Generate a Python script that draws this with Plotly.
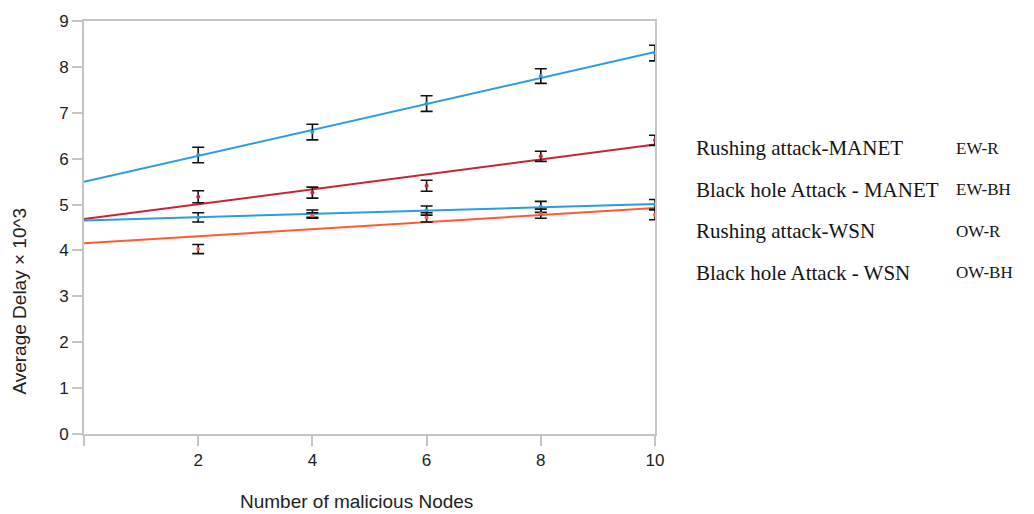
import numpy as np
import plotly.graph_objects as go

# Number of malicious nodes
nodes = [2, 4, 6, 8, 10]

# Average delay (x 10^3) per scenario, with error bar half-heights
rush_manet = [6.08, 6.58, 7.20, 7.80, 8.30]
rush_manet_err = [0.17, 0.17, 0.17, 0.16, 0.17]

bh_manet = [5.17, 5.26, 5.41, 6.05, 6.40]
bh_manet_err = [0.13, 0.12, 0.12, 0.11, 0.11]

rush_wsn = [4.72, 4.80, 4.87, 4.95, 5.00]
rush_wsn_err = [0.10, 0.08, 0.10, 0.12, 0.11]

bh_wsn = [4.03, 4.76, 4.72, 4.80, 4.78]
bh_wsn_err = [0.10, 0.06, 0.10, 0.10, 0.11]

series_names = ["Rushing attack-MANET", "Black hole Attack - MANET",
                "Rushing attack-WSN", "Black hole Attack - WSN"]
series_codes = ["EW-R", "EW-BH", "OW-R", "OW-BH"]

x_ticks = [0, 2, 4, 6, 8, 10]
x_tick_text = ["", "2", "4", "6", "8", "10"]
y_ticks = [0, 1, 2, 3, 4, 5, 6, 7, 8, 9]

series = [
    (rush_manet, rush_manet_err, "#2a9de0"),
    (bh_manet, bh_manet_err, "#cc2236"),
    (rush_wsn, rush_wsn_err, "#2a9de0"),
    (bh_wsn, bh_wsn_err, "#ff5a36"),
]

fig = go.Figure()

# Linear trend lines spanning the whole x range
trend_x = np.array([0.0, 10.0])
for vals, _, color in series:
    slope, intercept = np.polyfit(nodes, vals, 1)
    fig.add_trace(go.Scatter(
        x=trend_x, y=slope * trend_x + intercept, mode="lines",
        line=dict(color=color, width=2), showlegend=False, hoverinfo="skip"))

# Measured points with error bars
for vals, errs, color in series:
    fig.add_trace(go.Scatter(
        x=nodes, y=vals, mode="markers",
        marker=dict(color=color, size=4),
        error_y=dict(type="data", array=errs, visible=True,
                     color="#111111", thickness=1.6, width=6),
        showlegend=False))

# Plot area in pixels
L, R, T, B = 84, 655, 16, 434
W, H = 1034, 514


def px(x):
    return (x - L) / (R - L)


def py(y):
    return (B - y) / (B - T)


axis_line = "#c4c4c4"
sans = "Liberation Sans, Arial, sans-serif"
serif = "Liberation Serif, Times New Roman, serif"
tick_font = dict(family=sans, size=17, color="#1e1e1e")

fig.update_xaxes(range=[0, 10], tickvals=x_ticks, ticktext=x_tick_text,
                 showline=True, mirror=True, linecolor=axis_line, linewidth=2,
                 ticks="outside", ticklen=10, tickwidth=2, tickcolor=axis_line,
                 showgrid=False, zeroline=False, tickfont=tick_font)
fig.update_yaxes(range=[0, 9], tickvals=y_ticks,
                 showline=True, mirror=True, linecolor=axis_line, linewidth=2,
                 ticks="outside", ticklen=10, tickwidth=2, tickcolor=axis_line,
                 showgrid=False, zeroline=False, tickfont=tick_font)

annotations = [
    dict(text="Number of malicious Nodes", x=px(356), y=py(502),
         xref="paper", yref="paper", xanchor="center", yanchor="middle",
         showarrow=False, font=dict(family=sans, size=19, color="#222222")),
    dict(text="Average Delay × 10^3", x=px(20), y=py(300), textangle=-90,
         xref="paper", yref="paper", xanchor="center", yanchor="middle",
         showarrow=False, font=dict(family=sans, size=19, color="#222222")),
]

row_y = [145, 187, 229, 271]
for name, code, yy in zip(series_names, series_codes, row_y):
    annotations.append(dict(text=name, x=px(694), y=py(yy), xref="paper", yref="paper",
                            xanchor="left", yanchor="middle", showarrow=False,
                            font=dict(family=serif, size=21, color="#141414")))
    annotations.append(dict(text=code, x=px(954), y=py(yy), xref="paper", yref="paper",
                            xanchor="left", yanchor="middle", showarrow=False,
                            font=dict(family=serif, size=17, color="#141414")))

fig.update_layout(
    width=W, height=H,
    margin=dict(l=L, r=W - R, t=T, b=H - B),
    paper_bgcolor="white", plot_bgcolor="white",
    annotations=annotations,
)

fig.write_html("out.html")
